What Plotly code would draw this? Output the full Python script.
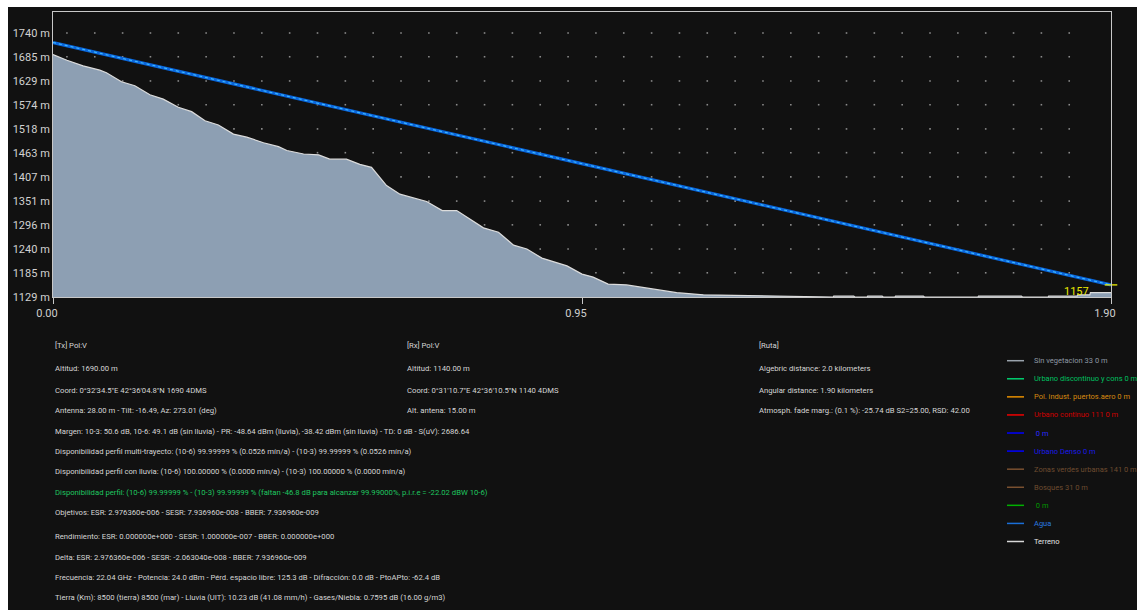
import plotly.graph_objects as go

# ---- Path profile data -------------------------------------------------
# Terrain elevation along the link (distance in km, altitude in m)
dist_km = [0.000, 0.025, 0.054, 0.084, 0.096, 0.123, 0.147, 0.174, 0.198, 0.225,
           0.249, 0.273, 0.297, 0.324, 0.348, 0.378, 0.405, 0.420, 0.450, 0.477,
           0.497, 0.527, 0.551, 0.572, 0.599, 0.623, 0.671, 0.699, 0.725, 0.773,
           0.800, 0.827, 0.851, 0.878, 0.923, 0.950, 0.970, 0.997, 1.030, 1.068,
           1.120, 1.168, 1.264, 1.401, 1.402, 1.438, 1.440, 1.462, 1.463, 1.489,
           1.491, 1.512, 1.513, 1.563, 1.565, 1.661, 1.662, 1.739, 1.741, 1.787,
           1.788, 1.839, 1.840, 1.862, 1.863, 1.900]
terrain_m = [1690, 1677, 1664, 1654, 1648, 1627, 1618, 1597, 1587, 1568,
             1558, 1537, 1527, 1506, 1499, 1486, 1477, 1468, 1460, 1458,
             1448, 1448, 1436, 1429, 1387, 1367, 1350, 1329, 1329, 1289,
             1279, 1249, 1240, 1219, 1201, 1182, 1175, 1159, 1157, 1150,
             1139, 1134, 1132, 1129, 1131, 1131, 1129, 1129, 1131, 1131,
             1129, 1129, 1131, 1131, 1129, 1129, 1131, 1131, 1129, 1129,
             1131, 1131, 1134, 1134, 1139, 1139]

# Line of sight: Tx antenna top -> Rx antenna top
los_dist_km = [0.00, 1.90]
los_alt_m = [1718, 1157]
rx_label = "1157"

# Axis ticks
y_ticks = [1129, 1185, 1240, 1296, 1351, 1407, 1463, 1518, 1574, 1629, 1685, 1740]
y_tick_labels = [f"{v} m" for v in y_ticks]
x_ticks = [0.00, 0.95, 1.90]
x_tick_labels = ["0.00", "0.95", "1.90"]
grid_x = [0.025 + 0.05 * k for k in range(37)]

# Info blocks
tx_lines = [
    "[Tx] Pol:V",
    "Altitud: 1690.00 m",
    "Coord: 0°32'34.5\"E 42°36'04.8\"N 1690 4DMS",
    "Antenna: 28.00 m - Tilt: -16.49, Az: 273.01 (deg)",
    "Margen: 10-3: 50.6 dB, 10-6: 49.1 dB (sin lluvia) - PR: -48.64 dBm (lluvia), -38.42 dBm (sin lluvia) - TD: 0 dB - S(uV): 2686.64",
    "Disponibilidad perfil multi-trayecto: (10-6) 99.99999 % (0.0526 mín/a) - (10-3) 99.99999 % (0.0526 mín/a)",
    "Disponibilidad perfil con lluvia: (10-6) 100.00000 % (0.0000 mín/a) - (10-3) 100.00000 % (0.0000 mín/a)",
    "Disponibilidad perfil: (10-6) 99.99999 % - (10-3) 99.99999 % (faltan -46.8 dB para alcanzar 99.99000%, p.i.r.e = -22.02 dBW 10-6)",
    "Objetivos: ESR: 2.976360e-006 - SESR: 7.936960e-008 - BBER: 7.936960e-009",
    "Rendimiento: ESR: 0.000000e+000 - SESR: 1.000000e-007 - BBER: 0.000000e+000",
    "Delta: ESR: 2.976360e-006 - SESR: -2.063040e-008 - BBER: 7.936960e-009",
    "Frecuencia: 22.04 GHz - Potencia: 24.0 dBm - Pérd. espacio libre: 125.3 dB - Difracción: 0.0 dB - PtoAPto: -62.4 dB",
    "Tierra (Km): 8500 (tierra) 8500 (mar) - Lluvia (UIT): 10.23 dB (41.08 mm/h) - Gases/Niebla: 0.7595 dB (16.00 g/m3)",
]
tx_line_y = [345.7, 369, 390, 410, 431, 451.7, 471.7, 492.3, 512.3, 536.7, 557.3, 577.3, 597.3]
tx_line_colors = ["#d6d6d6"] * 7 + ["#1fc760"] + ["#d6d6d6"] * 5

rx_lines = [
    "[Rx] Pol:V",
    "Altitud: 1140.00 m",
    "Coord: 0°31'10.7\"E 42°36'10.5\"N 1140 4DMS",
    "Alt. antena: 15.00 m",
]
route_lines = [
    "[Ruta]",
    "Algebric distance: 2.0 kilometers",
    "Angular distance: 1.90 kilometers",
    "Atmosph. fade marg.: (0.1 %): -25.74 dB S2=25.00, RSD: 42.00",
]

legend_names = ["Sin vegetacion 33 0 m", "Urbano discontinuo y cons 0 m",
                "Pol. indust. puertos.aero 0 m", "Urbano continuo 111 0 m",
                "\u00a00 m", "Urbano Denso 0 m", "Zonas verdes urbanas 141 0 m",
                "Bosques 31 0 m", "\u00a00 m", "Agua", "Terreno"]
legend_line_colors = ["#9aa3ad", "#00d070", "#e89000", "#f00000", "#0000ff",
                      "#0000ff", "#7a5030", "#7a5030", "#00b000", "#1a6fd8", "#d8d8d8"]
legend_text_colors = ["#8e98a4", "#00c060", "#d88a10", "#d00000", "#2a2aff",
                      "#1a1ae8", "#6e4c30", "#6e4c30", "#009a00", "#2a7ae0", "#e4e4e4"]

# ---- Layout geometry (pixels) ----------------------------------------
W, H = 1137, 610
PL, PR, PT, PB = 53, 1111, 12, 297
FONT = "Roboto, Arial, sans-serif"
TEXT_SIZE = 7.7
LEGEND_SIZE = 7.5


def px(xp):
    return (xp - PL) / (PR - PL)


def py(yp):
    return (PB - yp) / (PB - PT)


fig = go.Figure()

# Dotted grid at regular intervals
gx, gy = [], []
for yv in y_ticks[1:]:
    for xv in grid_x:
        gx.append(xv)
        gy.append(yv)
fig.add_trace(go.Scatter(x=gx, y=gy, mode="markers",
                         marker=dict(size=1.6, color="#8a8a8a", symbol="square",
                                     line=dict(width=0)),
                         hoverinfo="skip", showlegend=False))

# Terrain
fig.add_trace(go.Scatter(x=dist_km, y=terrain_m, mode="lines", fill="tozeroy",
                         fillcolor="#8d9fb3", line=dict(color="#dcdcdc", width=1.2),
                         hoverinfo="skip", showlegend=False))

# Line of sight
fig.add_trace(go.Scatter(x=los_dist_km, y=los_alt_m, mode="lines",
                         line=dict(color="#0a66dc", width=3.2),
                         hoverinfo="skip", showlegend=False))
fig.add_trace(go.Scatter(x=los_dist_km, y=los_alt_m, mode="lines",
                         line=dict(color="#3cb6ff", width=1.2, dash="dot"),
                         hoverinfo="skip", showlegend=False))

# Rx end marker
fig.add_trace(go.Scatter(x=[los_dist_km[-1]], y=[los_alt_m[-1]], mode="markers",
                         marker=dict(symbol="line-ew", size=9,
                                     line=dict(color="#f0f000", width=1.3)),
                         cliponaxis=False, hoverinfo="skip", showlegend=False))

annotations = [dict(x=los_dist_km[-1], y=los_alt_m[-1], xref="x", yref="y",
                    text=rx_label, showarrow=False, xanchor="right", yanchor="middle",
                    xshift=-20, yshift=-7, font=dict(family=FONT, size=11, color="#e8e800"))]

shapes = []
# White screen edges (top and left)
shapes.append(dict(type="rect", xref="paper", yref="paper", x0=px(0), x1=px(W),
                   y0=py(7), y1=py(0), fillcolor="#ffffff", line=dict(width=0)))
shapes.append(dict(type="rect", xref="paper", yref="paper", x0=px(0), x1=px(8),
                   y0=py(H), y1=py(0), fillcolor="#ffffff", line=dict(width=0)))


def add_text(xp, yp, text, color, size=TEXT_SIZE):
    annotations.append(dict(x=px(xp), y=py(yp), xref="paper", yref="paper",
                            text=text, showarrow=False, xanchor="left",
                            yanchor="middle", font=dict(family=FONT, size=size,
                                                        color=color)))


for t, yv, c in zip(tx_lines, tx_line_y, tx_line_colors):
    add_text(53, yv, t, c)
for t, yv in zip(rx_lines, tx_line_y):
    add_text(405, yv, t, "#d6d6d6")
for t, yv in zip(route_lines, tx_line_y):
    add_text(757, yv, t, "#d6d6d6")

# Land-use legend
for i, (name, lc, tc) in enumerate(zip(legend_names, legend_line_colors, legend_text_colors)):
    yrow = 360.7 + 18.08 * i
    shapes.append(dict(type="line", xref="paper", yref="paper",
                       x0=px(1007), x1=px(1024), y0=py(yrow), y1=py(yrow),
                       line=dict(color=lc, width=1.5)))
    add_text(1032, yrow, name, tc, LEGEND_SIZE)

fig.update_layout(
    width=W, height=H,
    margin=dict(l=PL, r=W - PR, t=PT, b=H - PB),
    paper_bgcolor="#111111", plot_bgcolor="#111111",
    showlegend=False,
    shapes=shapes, annotations=annotations,
    xaxis=dict(range=[0, 1.90], tickvals=x_ticks, ticktext=x_tick_labels,
               showgrid=False, zeroline=False, showline=True, mirror=True,
               linecolor="#c8c8c8", linewidth=1,
               ticks="outside", ticklen=6, tickcolor="#c8c8c8", ticklabelshift=-6,
               tickfont=dict(family=FONT, size=11, color="#cfcfcf")),
    yaxis=dict(range=[1129, 1788.6], tickvals=y_ticks, ticktext=y_tick_labels,
               showgrid=False, zeroline=False, showline=True, mirror=True,
               linecolor="#c8c8c8", linewidth=1, ticks="", ticklen=0,
               tickfont=dict(family=FONT, size=11, color="#d2d2d2")),
)

fig.write_html("out.html")
